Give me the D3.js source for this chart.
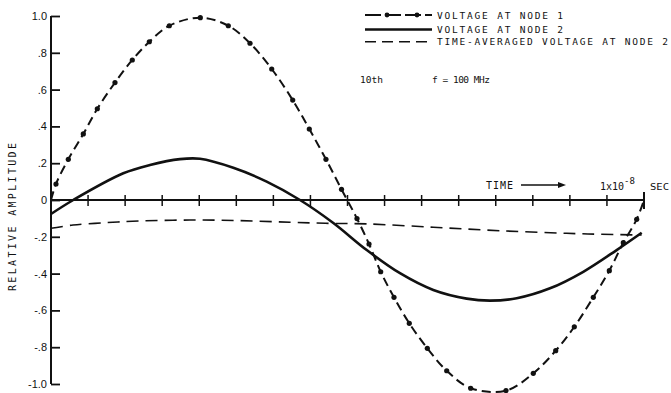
<!DOCTYPE html>
<html>
<head>
<meta charset="utf-8">
<script src="https://cdn.jsdelivr.net/npm/d3@7"></script>
<style>
  html, body { margin: 0; padding: 0; background: #fff; }
  svg { display: block; }
  .lab { font-family: "DejaVu Sans Mono", monospace; fill: #111; }
</style>
</head>
<body>
<div id="chart"></div>
<script>
// ---- data (time in ns, 0..10 ns = 0..1x10^-8 s) ----
const node1Time = [0, 0.084, 0.292, 0.545, 0.781, 1.079, 1.371, 1.658, 1.995, 2.518, 2.99, 3.356, 3.722, 4.076, 4.356, 4.637, 4.899, 5.160, 5.363, 5.560, 5.784, 6.042, 6.346, 6.673, 7.078, 7.673, 8.133, 8.511, 8.825, 9.145, 9.415, 9.651, 9.877, 10];
const node1Volt = [0, 0.087, 0.221, 0.359, 0.496, 0.638, 0.761, 0.860, 0.947, 0.991, 0.947, 0.852, 0.712, 0.543, 0.386, 0.221, 0.058, -0.101, -0.239, -0.390, -0.529, -0.670, -0.806, -0.928, -1.023, -1.036, -0.942, -0.819, -0.689, -0.529, -0.384, -0.232, -0.105, 0.0];

const node2Time = [0, 0.376, 1.219, 1.669, 2.175, 2.513, 3.074, 3.637, 4.199, 4.761, 5.324, 5.885, 6.447, 7.010, 7.403, 7.853, 8.415, 8.976, 9.539, 9.961];
const node2Volt = [-0.076, 0, 0.145, 0.190, 0.222, 0.224, 0.175, 0.100, 0.0, -0.125, -0.272, -0.398, -0.489, -0.536, -0.547, -0.534, -0.480, -0.390, -0.272, -0.178];

const avgTime = [0, 0.371, 0.939, 1.5, 2.344, 3.187, 4.03, 4.705, 5.324, 6.447, 7.572, 8.696, 9.258, 9.877, 9.96];
const avgVolt = [-0.154, -0.136, -0.123, -0.114, -0.109, -0.112, -0.121, -0.127, -0.130, -0.148, -0.167, -0.181, -0.186, -0.190, -0.190];

const yTickValues = [1.0, 0.8, 0.6, 0.4, 0.2, 0, -0.2, -0.4, -0.6, -0.8, -1.0];
const yTickLabels = ["1.0", ".8", ".6", ".4", ".2", "0", "-.2", "-.4", "-.6", "-.8", "-1.0"];
const xTickCount = 16;

const legendLabels = ["VOLTAGE AT NODE 1", "VOLTAGE AT NODE 2", "TIME-AVERAGED VOLTAGE AT NODE 2"];

// ---- drawing ----
const W = 671, H = 393;
const svg = d3.select("#chart").append("svg").attr("width", W).attr("height", H);

const x = d3.scaleLinear().domain([0, 10]).range([51, 644]);
const y = d3.scaleLinear().domain([-1, 1]).range([384, 16]);

const ink = "#111";

// y axis (ticks pointing inward to the right)
const yAxis = d3.axisRight(y).tickValues(yTickValues).tickSize(9).tickFormat(() => "");
const gy = svg.append("g").attr("transform", `translate(${x(0)},0)`).call(yAxis);
gy.select(".domain").attr("d", `M0,${y(1)}V${y(-1)}`).attr("stroke", ink).attr("stroke-width", 2);
gy.selectAll(".tick line").attr("stroke", ink).attr("stroke-width", 1.8);

// y tick labels
svg.append("g").selectAll("text").data(yTickValues).join("text")
  .attr("x", 47).attr("y", d => y(d) + 4)
  .attr("text-anchor", "end")
  .style("font-family", "'Liberation Sans', Arial, sans-serif")
  .style("font-size", "11px").attr("fill", ink)
  .text((d, i) => yTickLabels[i]);

// y axis title
svg.append("text").attr("class", "lab")
  .attr("transform", `translate(16,217) rotate(-90)`)
  .attr("text-anchor", "middle")
  .style("font-size", "10px")
  .attr("textLength", 148).attr("lengthAdjust", "spacing")
  .text("RELATIVE AMPLITUDE");

// x axis (through zero)
const xTicks = d3.range(1, xTickCount + 1).map(k => k * 10 / xTickCount);
const gx = svg.append("g").attr("transform", `translate(0,${y(0)})`);
gx.append("line").attr("x1", x(0)).attr("x2", x(10)).attr("y1", 0).attr("y2", 0)
  .attr("stroke", ink).attr("stroke-width", 1.8);
gx.selectAll("line.tk").data(xTicks).join("line").attr("class", "tk")
  .attr("x1", d => x(d)).attr("x2", d => x(d))
  .attr("y1", d => d === 10 ? -8 : -5).attr("y2", d => d === 10 ? 9 : 6)
  .attr("stroke", ink).attr("stroke-width", d => d === 10 ? 2 : 1.5);

// TIME arrow label
svg.append("text").attr("class", "lab").attr("x", 486).attr("y", 189)
  .style("font-size", "10px").attr("textLength", 27).attr("lengthAdjust", "spacing").text("TIME");
svg.append("line").attr("x1", 521).attr("x2", 560).attr("y1", 185).attr("y2", 185)
  .attr("stroke", ink).attr("stroke-width", 1.6);
svg.append("path").attr("d", "M558,182 L566,185 L558,188 Z").attr("fill", ink);
const unit = svg.append("text").attr("class", "lab").attr("x", 600).attr("y", 190).style("font-size", "10px");
unit.append("tspan").text("1x10");
unit.append("tspan").attr("dy", -6).style("font-size", "9px").text("-8");
svg.append("text").attr("class", "lab").attr("x", 650).attr("y", 190)
  .style("font-size", "9.5px").attr("textLength", 19).attr("lengthAdjust", "spacingAndGlyphs").text("SEC");

// lines
const line = d3.line().x(d => x(d[0])).y(d => y(d[1])).curve(d3.curveCatmullRom.alpha(0.5));

const n1 = node1Time.map((t, i) => [t, node1Volt[i]]);
const n2 = node2Time.map((t, i) => [t, node2Volt[i]]);
const av = avgTime.map((t, i) => [t, avgVolt[i]]);

svg.append("path").datum(av).attr("d", line).attr("fill", "none")
  .attr("stroke", ink).attr("stroke-width", 1.6).attr("stroke-dasharray", "12,7");

svg.append("path").datum(n2).attr("d", line).attr("fill", "none")
  .attr("stroke", ink).attr("stroke-width", 2.6);

svg.append("path").datum(n1).attr("d", line).attr("fill", "none")
  .attr("stroke", ink).attr("stroke-width", 2).attr("stroke-dasharray", "9,5");

svg.append("g").selectAll("circle").data(n1.slice(1, -1)).join("circle")
  .attr("cx", d => x(d[0])).attr("cy", d => y(d[1])).attr("r", 2.6).attr("fill", ink);

// legend
const lg = svg.append("g");
const ly = [15, 29.5, 41.7];
lg.append("line").attr("x1", 365).attr("x2", 432).attr("y1", ly[0]).attr("y2", ly[0])
  .attr("stroke", ink).attr("stroke-width", 1.8).attr("stroke-dasharray", "16,4");
lg.selectAll("circle").data([387, 417]).join("circle")
  .attr("cx", d => d).attr("cy", ly[0]).attr("r", 2.4).attr("fill", ink);
lg.append("line").attr("x1", 365).attr("x2", 432).attr("y1", ly[1]).attr("y2", ly[1])
  .attr("stroke", ink).attr("stroke-width", 2.4);
lg.append("line").attr("x1", 365).attr("x2", 432).attr("y1", ly[2]).attr("y2", ly[2])
  .attr("stroke", ink).attr("stroke-width", 1.6).attr("stroke-dasharray", "11,6");
const lw = [126, 126, 231];
lg.selectAll("text").data(legendLabels).join("text").attr("class", "lab")
  .attr("x", 437).attr("y", (d, i) => ly[i] + 3.5)
  .style("font-size", "9.5px")
  .attr("textLength", (d, i) => lw[i]).attr("lengthAdjust", "spacing")
  .text(d => d);

svg.append("text").attr("class", "lab").attr("x", 360).attr("y", 83)
  .style("font-size", "9.5px").text("10th");
svg.append("text").attr("class", "lab").attr("x", 432).attr("y", 83)
  .style("font-size", "9.5px").attr("textLength", 58).attr("lengthAdjust", "spacing").text("f = 100 MHz");
</script>
</body>
</html>
